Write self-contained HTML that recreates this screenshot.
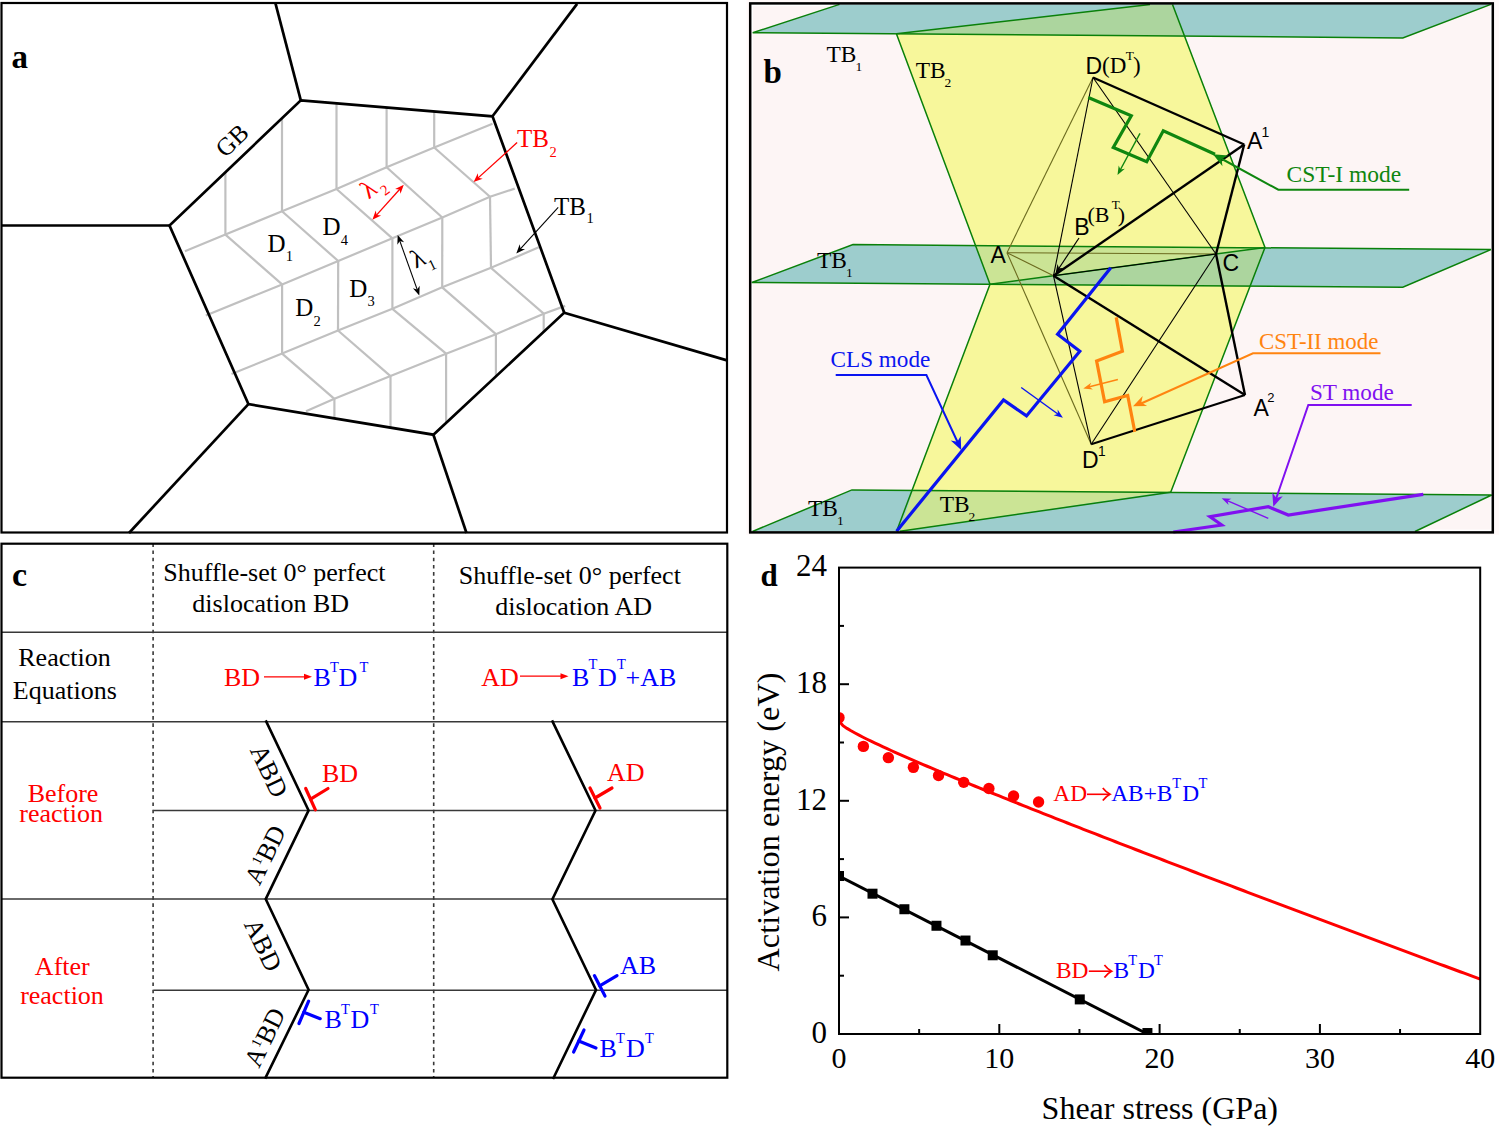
<!DOCTYPE html>
<html><head><meta charset="utf-8"><title>Figure</title>
<style>html,body{margin:0;padding:0;background:#fff;}svg{display:block;}</style></head>
<body><svg width="1499" height="1127" viewBox="0 0 1499 1127">
<rect width="1499" height="1127" fill="#fff"/>
<g id="pa">
<polyline points="184.9,251.2 225.4,234.6 282,211.2 336.5,189 386.6,167.2 434.2,147.5 492.5,123.7" fill="none" stroke="#c0c0c0" stroke-width="2.2" />
<polyline points="205.8,315.4 282.1,284.4 338.2,261 392.4,238.3 442.3,217.5 490,196.8 514.7,188.6" fill="none" stroke="#c0c0c0" stroke-width="2.2" />
<polyline points="231.5,374 282.1,353.6 338,330.5 392.4,308.8 442.2,287.3 491,267.8 538.8,247.3" fill="none" stroke="#c0c0c0" stroke-width="2.2" />
<polyline points="306,411.2 334.4,398.8 390.5,376.1 446.1,353.7 495.9,334.2 543.7,313.7 565.2,305.9" fill="none" stroke="#c0c0c0" stroke-width="2.2" />
<line x1="225.4" y1="234.6" x2="225.4" y2="172.2" stroke="#c0c0c0" stroke-width="2.2" />
<line x1="282" y1="211.2" x2="282" y2="118.23" stroke="#c0c0c0" stroke-width="2.2" />
<line x1="336.5" y1="189" x2="336.5" y2="103.28" stroke="#c0c0c0" stroke-width="2.2" />
<line x1="386.6" y1="167.2" x2="386.6" y2="107.46" stroke="#c0c0c0" stroke-width="2.2" />
<line x1="434.2" y1="147.5" x2="434.2" y2="111.43" stroke="#c0c0c0" stroke-width="2.2" />
<line x1="225.4" y1="234.6" x2="282.1" y2="284.4" stroke="#c0c0c0" stroke-width="2.2" />
<line x1="282" y1="211.2" x2="338.2" y2="261" stroke="#c0c0c0" stroke-width="2.2" />
<line x1="336.5" y1="189" x2="392.4" y2="238.3" stroke="#c0c0c0" stroke-width="2.2" />
<line x1="386.6" y1="167.2" x2="442.3" y2="217.5" stroke="#c0c0c0" stroke-width="2.2" />
<line x1="434.2" y1="147.5" x2="490" y2="196.8" stroke="#c0c0c0" stroke-width="2.2" />
<line x1="282.1" y1="284.4" x2="282.1" y2="353.6" stroke="#c0c0c0" stroke-width="2.2" />
<line x1="338.2" y1="261" x2="338" y2="330.5" stroke="#c0c0c0" stroke-width="2.2" />
<line x1="392.4" y1="238.3" x2="392.4" y2="308.8" stroke="#c0c0c0" stroke-width="2.2" />
<line x1="442.3" y1="217.5" x2="442.2" y2="287.3" stroke="#c0c0c0" stroke-width="2.2" />
<line x1="490" y1="196.8" x2="491" y2="267.8" stroke="#c0c0c0" stroke-width="2.2" />
<line x1="282.1" y1="353.6" x2="334.4" y2="398.8" stroke="#c0c0c0" stroke-width="2.2" />
<line x1="338" y1="330.5" x2="390.5" y2="376.1" stroke="#c0c0c0" stroke-width="2.2" />
<line x1="392.4" y1="308.8" x2="446.1" y2="353.7" stroke="#c0c0c0" stroke-width="2.2" />
<line x1="442.2" y1="287.3" x2="495.9" y2="334.2" stroke="#c0c0c0" stroke-width="2.2" />
<line x1="491" y1="267.8" x2="543.7" y2="313.7" stroke="#c0c0c0" stroke-width="2.2" />
<line x1="334.4" y1="398.8" x2="334.4" y2="418.32" stroke="#c0c0c0" stroke-width="2.2" />
<line x1="390.5" y1="376.1" x2="390.5" y2="427.6" stroke="#c0c0c0" stroke-width="2.2" />
<line x1="446.1" y1="353.7" x2="446.1" y2="422.85" stroke="#c0c0c0" stroke-width="2.2" />
<line x1="495.9" y1="334.2" x2="495.9" y2="376.4" stroke="#c0c0c0" stroke-width="2.2" />
<line x1="543.7" y1="313.7" x2="543.7" y2="331.82" stroke="#c0c0c0" stroke-width="2.2" />
<polygon points="300.8,100.3 492.5,116.3 564.2,312.7 433.4,434.7 248.4,404.1 169.5,225.5" fill="none" stroke="#000" stroke-width="2.7" stroke-linejoin="miter"/>
<line x1="300.8" y1="100.3" x2="275.2" y2="2.4" stroke="#000" stroke-width="2.7" />
<line x1="492.5" y1="116.3" x2="577.1" y2="3.9" stroke="#000" stroke-width="2.7" />
<line x1="564.2" y1="312.7" x2="727" y2="360.4" stroke="#000" stroke-width="2.7" />
<line x1="433.4" y1="434.7" x2="466.5" y2="533" stroke="#000" stroke-width="2.7" />
<line x1="248.4" y1="404.1" x2="129" y2="533" stroke="#000" stroke-width="2.7" />
<line x1="169.5" y1="225.5" x2="1.5" y2="225.5" stroke="#000" stroke-width="2.7" />
<rect x="1.5" y="3" width="725.5" height="529.5" fill="none" stroke="#000" stroke-width="2.2"/>
<text x="11.5" y="67.5" font-family="'Liberation Serif', serif" font-size="33" fill="#000" text-anchor="start" font-weight="bold" >a</text>
<text x="237.8" y="146.5" font-family="'Liberation Serif', serif" font-size="25" fill="#000" text-anchor="middle" transform="rotate(-43.6 237.8 146.5)" >GB</text>
<text x="267.4" y="251.9" font-family="'Liberation Serif', serif" font-size="25" fill="#000" text-anchor="start" >D</text>
<text x="285.7" y="261.1" font-family="'Liberation Serif', serif" font-size="14.5" fill="#000" text-anchor="start" >1</text>
<text x="322.5" y="235.3" font-family="'Liberation Serif', serif" font-size="25" fill="#000" text-anchor="start" >D</text>
<text x="340.8" y="244.5" font-family="'Liberation Serif', serif" font-size="14.5" fill="#000" text-anchor="start" >4</text>
<text x="295.2" y="316.3" font-family="'Liberation Serif', serif" font-size="25" fill="#000" text-anchor="start" >D</text>
<text x="313.5" y="325.5" font-family="'Liberation Serif', serif" font-size="14.5" fill="#000" text-anchor="start" >2</text>
<text x="349.3" y="296.8" font-family="'Liberation Serif', serif" font-size="25" fill="#000" text-anchor="start" >D</text>
<text x="367.6" y="306" font-family="'Liberation Serif', serif" font-size="14.5" fill="#000" text-anchor="start" >3</text>
<text x="517" y="147.2" font-family="'Liberation Serif', serif" font-size="25" fill="#ff0000" text-anchor="start" >TB</text>
<text x="549.5" y="156.5" font-family="'Liberation Serif', serif" font-size="14.5" fill="#ff0000" text-anchor="start" >2</text>
<text x="554" y="215.4" font-family="'Liberation Serif', serif" font-size="25" fill="#000" text-anchor="start" >TB</text>
<text x="586.5" y="223.2" font-family="'Liberation Serif', serif" font-size="14.5" fill="#000" text-anchor="start" >1</text>
<line x1="517.1" y1="142.6" x2="477.6" y2="178.37" stroke="#ff0000" stroke-width="1.3" />
<polygon points="473.6,182 477.85,173.29 478.27,177.77 482.69,178.63" fill="#ff0000" stroke="none" stroke-width="1" />
<line x1="558.2" y1="207.4" x2="519.94" y2="249.41" stroke="#000" stroke-width="1.1" />
<polygon points="516.3,253.4 519.7,244.32 520.54,248.74 525.02,249.17" fill="#000" stroke="none" stroke-width="1" />
<line x1="400.19" y1="188.72" x2="376.01" y2="215.68" stroke="#ff0000" stroke-width="1.3" />
<polygon points="372.4,219.7 375.73,210.6 376.61,215.01 381.09,215.4" fill="#ff0000" stroke="none" stroke-width="1" />
<polygon points="403.8,184.7 400.47,193.8 399.59,189.39 395.11,189" fill="#ff0000" stroke="none" stroke-width="1" />
<line x1="399.52" y1="240.09" x2="417.48" y2="290.41" stroke="#000" stroke-width="1.1" />
<polygon points="419.3,295.5 412.88,288.23 417.18,289.57 419.66,285.81" fill="#000" stroke="none" stroke-width="1" />
<polygon points="397.7,235 404.12,242.27 399.82,240.93 397.34,244.69" fill="#000" stroke="none" stroke-width="1" />
<g transform="translate(372.1,189.4) rotate(-38)"><text x="-9" y="6" font-family="'Liberation Serif', serif" font-size="26" fill="#ff0000">λ</text><text x="6" y="13.3" font-family="'Liberation Serif', serif" font-size="15" fill="#ff0000">2</text></g>
<g transform="translate(420.4,257.6) rotate(-26)"><text x="-9" y="8" font-family="'Liberation Serif', serif" font-size="26" fill="#000">λ</text><text x="3.6" y="16.8" font-family="'Liberation Serif', serif" font-size="15" fill="#000">1</text></g>
</g>
<g id="pb">
<rect x="746.5" y="0" width="752.5" height="535" fill="#fffafa"/>
<rect x="749" y="2" width="745.5" height="532" fill="#fff"/>
<rect x="753" y="6.2" width="737.2" height="523.4" fill="#fdf5f5"/>
<polygon points="896.4,33.85 1185,36.16 1265,247.4 990,284.2" fill="#f7f79b" stroke="none" stroke-width="1" />
<polygon points="990,284.2 1265,247.4 1170.7,492.3 896.6,531.2" fill="#f7f79b" stroke="none" stroke-width="1" />
<polygon points="752.7,32.7 839.5,4.4 1490.9,4.4 1402.8,37.9" fill="#9dcdcd" stroke="none" stroke-width="1" />
<polygon points="751.8,282.5 853,244.6 1490.9,249.6 1402.8,287.3" fill="#9dcdcd" stroke="none" stroke-width="1" />
<polygon points="752.5,531.5 851.9,489.9 1491.7,495 1415,531.5" fill="#9dcdcd" stroke="none" stroke-width="1" />
<polygon points="896.4,33.85 1150,4.4 1172.5,4.4 1185,36.16" fill="#acd59e" stroke="none" stroke-width="1" />
<polygon points="975.5,245.5 1264.9,247.3 990,284.2" fill="#cbe495" stroke="none" stroke-width="1" />
<polygon points="990,284.3 1265,247.4 1250.3,286.3" fill="#acd59e" stroke="none" stroke-width="1" />
<polygon points="913,489.6 1170.4,491.7 1160,492.8 900,531.2" fill="#cbe495" stroke="none" stroke-width="1" />
<polyline points="839.5,4.4 752.7,32.7 1402.8,37.9 1490.9,4.4" fill="none" stroke="#0a800a" stroke-width="1.5" />
<polygon points="751.8,282.5 853,244.6 1490.9,249.6 1402.8,287.3" fill="none" stroke="#0a800a" stroke-width="1.5" />
<polyline points="752.5,531.5 851.9,489.9 1491.7,495 1415,531.5" fill="none" stroke="#0a800a" stroke-width="1.5" />
<polyline points="896.4,33.85 990,284.2 896.6,531.2" fill="none" stroke="#0a800a" stroke-width="1.5" />
<polyline points="1172.5,4.4 1265,247.4 1170.7,492.3" fill="none" stroke="#0a800a" stroke-width="1.5" />
<line x1="896.4" y1="33.85" x2="1150" y2="4.4" stroke="#0a800a" stroke-width="1.5" />
<line x1="990" y1="284.2" x2="1265" y2="247.4" stroke="#0a800a" stroke-width="1.5" />
<line x1="900" y1="531.2" x2="1170.7" y2="492.3" stroke="#0a800a" stroke-width="1.5" />
<line x1="1093" y1="77.5" x2="1007" y2="252.7" stroke="#6b6a1e" stroke-width="1.1" />
<line x1="1007" y1="252.7" x2="1053.5" y2="275.8" stroke="#6b6a1e" stroke-width="1.1" />
<line x1="1007" y1="252.7" x2="1216" y2="254" stroke="#6b6a1e" stroke-width="1.1" />
<line x1="1007" y1="252.7" x2="1091.2" y2="444.3" stroke="#6b6a1e" stroke-width="1.1" />
<line x1="1093" y1="77.5" x2="1053.5" y2="275.8" stroke="#000" stroke-width="1.1" />
<line x1="1093" y1="77.5" x2="1216" y2="254" stroke="#000" stroke-width="1.1" />
<line x1="1053.5" y1="275.8" x2="1091.2" y2="444.3" stroke="#000" stroke-width="1.1" />
<line x1="1216" y1="254" x2="1091.2" y2="444.3" stroke="#000" stroke-width="1.1" />
<line x1="1053.5" y1="275.8" x2="1216" y2="254" stroke="#000" stroke-width="1.1" />
<line x1="1093" y1="77.5" x2="1244.2" y2="144.5" stroke="#000" stroke-width="2.4" />
<line x1="1244.2" y1="144.5" x2="1053.5" y2="275.8" stroke="#000" stroke-width="2.4" />
<line x1="1244.2" y1="144.5" x2="1216" y2="254" stroke="#000" stroke-width="2.4" />
<line x1="1053.5" y1="275.8" x2="1245" y2="395" stroke="#000" stroke-width="2.4" />
<line x1="1216" y1="254" x2="1245" y2="395" stroke="#000" stroke-width="2.4" />
<line x1="1091.2" y1="444.3" x2="1245" y2="395" stroke="#000" stroke-width="2.0" />
<line x1="1079" y1="238" x2="1058.48" y2="269" stroke="#000" stroke-width="1.2" />
<polygon points="1055.5,273.5 1057.55,264.06 1058.98,268.25 1063.39,267.93" fill="#000" stroke="none" stroke-width="1" />
<polyline points="1088.3,97.5 1131.3,115.8 1113.3,147.5 1146.7,161.7 1163.3,130.8 1215,154.2" fill="none" stroke="#0f860f" stroke-width="3.2" stroke-linejoin="miter"/>
<polyline points="1409.2,189.7 1278.3,189.7 1222,159" fill="none" stroke="#0f860f" stroke-width="2" />
<polygon points="1213,154.2 1228.17,155.62 1221.61,158.88 1222.43,166.16" fill="#0f860f" stroke="none" stroke-width="1" />
<line x1="1140" y1="133.3" x2="1120.06" y2="170.25" stroke="#0f860f" stroke-width="1.4" />
<polygon points="1117.5,175 1118.69,165.42 1120.49,169.46 1124.85,168.74" fill="#0f860f" stroke="none" stroke-width="1" />
<text x="1286.5" y="182.4" font-family="'Liberation Serif', serif" font-size="23.5" fill="#0f860f" text-anchor="start" >CST-I mode</text>
<polyline points="1110.8,267.7 1057.6,334.3 1079.8,351.2 1026.5,415.9 1003.5,400 896.6,531.2" fill="none" stroke="#0a14f0" stroke-width="3.2" stroke-linejoin="miter"/>
<polyline points="835.7,375 926.4,375 958,443" fill="none" stroke="#0a14f0" stroke-width="2" />
<polygon points="961.2,450.1 950.74,440.62 957.37,441.84 960.72,435.99" fill="#0a14f0" stroke="none" stroke-width="1" />
<line x1="1021.2" y1="387.5" x2="1058.53" y2="414.53" stroke="#0a14f0" stroke-width="1.4" />
<polygon points="1062.9,417.7 1053.56,415.26 1057.8,414 1057.66,409.59" fill="#0a14f0" stroke="none" stroke-width="1" />
<text x="830.5" y="366.6" font-family="'Liberation Serif', serif" font-size="23.2" fill="#0a14f0" text-anchor="start" >CLS mode</text>
<polyline points="1116.2,317.4 1122.4,351.2 1096.6,360.9 1104.6,401.7 1127.7,395.5 1134.8,431.9" fill="none" stroke="#ff8410" stroke-width="3.2" stroke-linejoin="miter"/>
<polyline points="1380.5,353.3 1253,353.3 1140,404" fill="none" stroke="#ff8410" stroke-width="2" />
<polygon points="1133,406.2 1142.66,395.9 1141.32,402.51 1147.11,405.96" fill="#ff8410" stroke="none" stroke-width="1" />
<line x1="1117.9" y1="379.5" x2="1088.53" y2="387.05" stroke="#ff8410" stroke-width="1.4" />
<polygon points="1083.3,388.4 1091.14,382.77 1089.4,386.83 1092.89,389.55" fill="#ff8410" stroke="none" stroke-width="1" />
<text x="1259" y="348.6" font-family="'Liberation Serif', serif" font-size="22.9" fill="#ff8410" text-anchor="start" >CST-II mode</text>
<polyline points="1173.3,532 1221.7,525 1210,516.7 1268.3,506.7 1288.3,515 1423.3,494.3" fill="none" stroke="#8010f0" stroke-width="3.2" stroke-linejoin="miter"/>
<polyline points="1411.7,405 1308.3,405 1276,499" fill="none" stroke="#8010f0" stroke-width="2" />
<polygon points="1273.3,506.7 1272.33,492.62 1276.26,498.1 1282.73,496.2" fill="#8010f0" stroke="none" stroke-width="1" />
<line x1="1268.3" y1="518.3" x2="1226.66" y2="500.43" stroke="#8010f0" stroke-width="1.4" />
<polygon points="1221.7,498.3 1231.35,498.63 1227.49,500.78 1228.59,505.07" fill="#8010f0" stroke="none" stroke-width="1" />
<text x="1309.9" y="399.5" font-family="'Liberation Serif', serif" font-size="23.2" fill="#8010f0" text-anchor="start" >ST mode</text>
<text x="763.5" y="82.5" font-family="'Liberation Serif', serif" font-size="33" fill="#000" text-anchor="start" font-weight="bold" >b</text>
<text x="826.5" y="62.1" font-family="'Liberation Serif', serif" font-size="23.4" fill="#000" text-anchor="start" >TB</text>
<text x="855.5" y="70.6" font-family="'Liberation Serif', serif" font-size="13.5" fill="#000" text-anchor="start" >1</text>
<text x="915.8" y="78.3" font-family="'Liberation Serif', serif" font-size="23.4" fill="#000" text-anchor="start" >TB</text>
<text x="944.5" y="86.8" font-family="'Liberation Serif', serif" font-size="13.5" fill="#000" text-anchor="start" >2</text>
<text x="817" y="268" font-family="'Liberation Serif', serif" font-size="23.4" fill="#000" text-anchor="start" >TB</text>
<text x="846" y="277.4" font-family="'Liberation Serif', serif" font-size="13.5" fill="#000" text-anchor="start" >1</text>
<text x="808" y="516" font-family="'Liberation Serif', serif" font-size="23.4" fill="#000" text-anchor="start" >TB</text>
<text x="837" y="524.7" font-family="'Liberation Serif', serif" font-size="13.5" fill="#000" text-anchor="start" >1</text>
<text x="939.8" y="512" font-family="'Liberation Serif', serif" font-size="23.4" fill="#000" text-anchor="start" >TB</text>
<text x="968.5" y="520.6" font-family="'Liberation Serif', serif" font-size="13.5" fill="#000" text-anchor="start" >2</text>
<text x="1085.6" y="73.8" font-family="'Liberation Sans', sans-serif" font-size="23" fill="#000" text-anchor="start" >D</text>
<text x="1102" y="72.8" font-family="'Liberation Serif', serif" font-size="23" fill="#000" text-anchor="start" >(D</text>
<text x="1125.8" y="59.7" font-family="'Liberation Serif', serif" font-size="13.3" fill="#000" text-anchor="start" >T</text>
<text x="1133.1" y="72.8" font-family="'Liberation Serif', serif" font-size="23" fill="#000" text-anchor="start" >)</text>
<text x="1246.9" y="149.1" font-family="'Liberation Sans', sans-serif" font-size="23" fill="#000" text-anchor="start" >A</text>
<text x="1261.4" y="137" font-family="'Liberation Sans', sans-serif" font-size="14" fill="#000" text-anchor="start" >1</text>
<text x="1074.2" y="234.6" font-family="'Liberation Sans', sans-serif" font-size="23" fill="#000" text-anchor="start" >B</text>
<text x="1087.4" y="221.6" font-family="'Liberation Serif', serif" font-size="22" fill="#000" text-anchor="start" >(B</text>
<text x="1111.8" y="209.4" font-family="'Liberation Serif', serif" font-size="13" fill="#000" text-anchor="start" >T</text>
<text x="1117.7" y="221.6" font-family="'Liberation Serif', serif" font-size="22" fill="#000" text-anchor="start" >)</text>
<text x="990.4" y="262.9" font-family="'Liberation Sans', sans-serif" font-size="23" fill="#000" text-anchor="start" >A</text>
<text x="1222.4" y="271" font-family="'Liberation Sans', sans-serif" font-size="23" fill="#000" text-anchor="start" >C</text>
<text x="1253.4" y="415.7" font-family="'Liberation Sans', sans-serif" font-size="23" fill="#000" text-anchor="start" >A</text>
<text x="1267.3" y="401.9" font-family="'Liberation Sans', sans-serif" font-size="13" fill="#000" text-anchor="start" >2</text>
<text x="1081.9" y="467.8" font-family="'Liberation Sans', sans-serif" font-size="23" fill="#000" text-anchor="start" >D</text>
<text x="1098.1" y="455.9" font-family="'Liberation Sans', sans-serif" font-size="13.8" fill="#000" text-anchor="start" >1</text>
<rect x="750.2" y="3.4" width="742.6" height="529" fill="none" stroke="#000" stroke-width="2.5"/>
</g>
<g id="pc">
<line x1="1.5" y1="632.2" x2="727" y2="632.2" stroke="#383838" stroke-width="1.5" />
<line x1="1.5" y1="721.8" x2="727" y2="721.8" stroke="#383838" stroke-width="1.5" />
<line x1="1.5" y1="899.1" x2="727" y2="899.1" stroke="#383838" stroke-width="1.5" />
<line x1="153.5" y1="810.4" x2="727" y2="810.4" stroke="#383838" stroke-width="1.5" />
<line x1="153.5" y1="990.2" x2="727" y2="990.2" stroke="#383838" stroke-width="1.5" />
<line x1="153.1" y1="543.7" x2="153.1" y2="1078" stroke="#383838" stroke-width="1.6" stroke-dasharray="3.6 3.6" stroke-dashoffset="0.4"/>
<line x1="433.7" y1="543.7" x2="433.7" y2="1078" stroke="#383838" stroke-width="1.6" stroke-dasharray="3.6 3.6" stroke-dashoffset="0.4"/>
<rect x="1.5" y="543.7" width="725.8" height="534" fill="none" stroke="#000" stroke-width="2.2"/>
<text x="12" y="585.5" font-family="'Liberation Serif', serif" font-size="34" fill="#000" text-anchor="start" font-weight="bold" >c</text>
<text x="274.4" y="581.1" font-family="'Liberation Serif', serif" font-size="26" fill="#000" text-anchor="middle" >Shuffle-set 0° perfect</text>
<text x="270.7" y="611.9" font-family="'Liberation Serif', serif" font-size="26" fill="#000" text-anchor="middle" >dislocation BD</text>
<text x="569.8" y="583.6" font-family="'Liberation Serif', serif" font-size="26" fill="#000" text-anchor="middle" >Shuffle-set 0° perfect</text>
<text x="573.6" y="615" font-family="'Liberation Serif', serif" font-size="26" fill="#000" text-anchor="middle" >dislocation AD</text>
<text x="64.5" y="665.6" font-family="'Liberation Serif', serif" font-size="26" fill="#000" text-anchor="middle" >Reaction</text>
<text x="64.8" y="698.5" font-family="'Liberation Serif', serif" font-size="26" fill="#000" text-anchor="middle" >Equations</text>
<text x="224" y="686.2" font-family="'Liberation Serif', serif" font-size="26" fill="#ff0000" text-anchor="start" >BD</text>
<line x1="264" y1="676.8" x2="307.2" y2="676.8" stroke="#ff0000" stroke-width="1.3" />
<polygon points="312,676.8 304,679.8 304,676.8 304,673.8" fill="#ff0000" stroke="none" stroke-width="1" />
<text x="313.5" y="686.2" font-family="'Liberation Serif', serif" font-size="26" fill="#0000ff" text-anchor="start" >B</text>
<text x="330" y="672" font-family="'Liberation Serif', serif" font-size="14.5" fill="#0000ff" text-anchor="start" >T</text>
<text x="338.5" y="686.2" font-family="'Liberation Serif', serif" font-size="26" fill="#0000ff" text-anchor="start" >D</text>
<text x="359.5" y="672" font-family="'Liberation Serif', serif" font-size="14.5" fill="#0000ff" text-anchor="start" >T</text>
<text x="481.2" y="686.2" font-family="'Liberation Serif', serif" font-size="26" fill="#ff0000" text-anchor="start" >AD</text>
<line x1="520" y1="676.2" x2="563.7" y2="676.2" stroke="#ff0000" stroke-width="1.3" />
<polygon points="568.5,676.2 560.5,679.2 560.5,676.2 560.5,673.2" fill="#ff0000" stroke="none" stroke-width="1" />
<text x="572" y="686.2" font-family="'Liberation Serif', serif" font-size="26" fill="#0000ff" text-anchor="start" >B</text>
<text x="588.5" y="669" font-family="'Liberation Serif', serif" font-size="14.5" fill="#0000ff" text-anchor="start" >T</text>
<text x="598" y="686.2" font-family="'Liberation Serif', serif" font-size="26" fill="#0000ff" text-anchor="start" >D</text>
<text x="617" y="669" font-family="'Liberation Serif', serif" font-size="14.5" fill="#0000ff" text-anchor="start" >T</text>
<text x="625.5" y="686.2" font-family="'Liberation Serif', serif" font-size="26" fill="#0000ff" text-anchor="start" >+AB</text>
<text x="63" y="801.9" font-family="'Liberation Serif', serif" font-size="26" fill="#ff0000" text-anchor="middle" >Before</text>
<text x="61.2" y="821.8" font-family="'Liberation Serif', serif" font-size="26" fill="#ff0000" text-anchor="middle" >reaction</text>
<text x="62.3" y="975.1" font-family="'Liberation Serif', serif" font-size="26" fill="#ff0000" text-anchor="middle" >After</text>
<text x="62" y="1003.8" font-family="'Liberation Serif', serif" font-size="26" fill="#ff0000" text-anchor="middle" >reaction</text>
<polyline points="265.7,720.4 308.6,810.4 265.7,899.1 308.6,989.8 265.1,1078.6" fill="none" stroke="#000" stroke-width="2.6" stroke-linejoin="miter"/>
<polyline points="552,720.4 595.5,810.5 552.4,899.3 596,990 553,1079" fill="none" stroke="#000" stroke-width="2.6" stroke-linejoin="miter"/>
<text x="269" y="771" font-family="'Liberation Serif', serif" font-size="26" text-anchor="middle" transform="rotate(64.5 269 771)" dominant-baseline="central">ABD</text>
<text x="263" y="945" font-family="'Liberation Serif', serif" font-size="26" text-anchor="middle" transform="rotate(64.5 263 945)" dominant-baseline="central">ABD</text>
<g transform="translate(267.5 851.5) rotate(-64.1)"><text x="-4" y="8" font-family="'Liberation Serif', serif" font-size="26" text-anchor="middle">A<tspan dy="-9" font-size="14">1</tspan><tspan dy="9">BD</tspan></text></g>
<g transform="translate(267 1034) rotate(-64.1)"><text x="-4" y="8" font-family="'Liberation Serif', serif" font-size="26" text-anchor="middle">A<tspan dy="-9" font-size="14">1</tspan><tspan dy="9">BD</tspan></text></g>
<line x1="305.7" y1="788.5" x2="315.4" y2="809.8" stroke="#ff0000" stroke-width="3.2" stroke-linecap="round"/>
<line x1="310.55" y1="799.15" x2="328" y2="788.5" stroke="#ff0000" stroke-width="3.2" stroke-linecap="round"/>
<line x1="590" y1="788" x2="600" y2="808" stroke="#ff0000" stroke-width="3.2" stroke-linecap="round"/>
<line x1="595" y1="798" x2="612" y2="788" stroke="#ff0000" stroke-width="3.2" stroke-linecap="round"/>
<line x1="308.6" y1="1001.2" x2="299" y2="1023.5" stroke="#0000ff" stroke-width="3.2" stroke-linecap="round"/>
<line x1="303.8" y1="1012.35" x2="320.2" y2="1018.7" stroke="#0000ff" stroke-width="3.2" stroke-linecap="round"/>
<line x1="594.4" y1="975.6" x2="605" y2="996" stroke="#0000ff" stroke-width="3.2" stroke-linecap="round"/>
<line x1="599.7" y1="985.8" x2="617" y2="975.6" stroke="#0000ff" stroke-width="3.2" stroke-linecap="round"/>
<line x1="584" y1="1030" x2="573.6" y2="1052" stroke="#0000ff" stroke-width="3.2" stroke-linecap="round"/>
<line x1="578.8" y1="1041" x2="596" y2="1048" stroke="#0000ff" stroke-width="3.2" stroke-linecap="round"/>
<text x="322" y="781.7" font-family="'Liberation Serif', serif" font-size="26" fill="#ff0000" text-anchor="start" >BD</text>
<text x="607" y="781" font-family="'Liberation Serif', serif" font-size="26" fill="#ff0000" text-anchor="start" >AD</text>
<text x="620" y="974" font-family="'Liberation Serif', serif" font-size="26" fill="#0000ff" text-anchor="start" >AB</text>
<text x="324.5" y="1028.3" font-family="'Liberation Serif', serif" font-size="26" fill="#0000ff" text-anchor="start" >B</text>
<text x="341" y="1014" font-family="'Liberation Serif', serif" font-size="14.5" fill="#0000ff" text-anchor="start" >T</text>
<text x="350.5" y="1028.3" font-family="'Liberation Serif', serif" font-size="26" fill="#0000ff" text-anchor="start" >D</text>
<text x="370" y="1014" font-family="'Liberation Serif', serif" font-size="14.5" fill="#0000ff" text-anchor="start" >T</text>
<text x="599.5" y="1057" font-family="'Liberation Serif', serif" font-size="26" fill="#0000ff" text-anchor="start" >B</text>
<text x="616" y="1042.5" font-family="'Liberation Serif', serif" font-size="14.5" fill="#0000ff" text-anchor="start" >T</text>
<text x="626" y="1057" font-family="'Liberation Serif', serif" font-size="26" fill="#0000ff" text-anchor="start" >D</text>
<text x="645" y="1042.5" font-family="'Liberation Serif', serif" font-size="14.5" fill="#0000ff" text-anchor="start" >T</text>
</g>
<g id="pd">
<defs><clipPath id="plot"><rect x="839.0" y="567.6" width="641.2" height="466.4"/></clipPath></defs>
<g clip-path="url(#plot)">
<path d="M839,721.03 L843.01,725.68 L847.01,728.4 L851.02,730.8 L855.03,733.04 L859.04,735.17 L863.04,737.22 L867.05,739.22 L871.06,741.18 L875.07,743.09 L879.08,744.98 L883.08,746.84 L887.09,748.68 L891.1,750.5 L895.11,752.3 L899.11,754.09 L903.12,755.86 L907.13,757.62 L911.13,759.36 L915.14,761.1 L919.15,762.83 L923.16,764.54 L927.16,766.25 L931.17,767.95 L935.18,769.64 L939.19,771.33 L943.2,773.01 L947.2,774.68 L951.21,776.35 L955.22,778.01 L959.23,779.66 L963.23,781.31 L967.24,782.96 L971.25,784.6 L975.25,786.24 L979.26,787.87 L983.27,789.5 L987.28,791.13 L991.29,792.75 L995.29,794.37 L999.3,795.98 L1003.31,797.59 L1007.32,799.2 L1011.32,800.81 L1015.33,802.41 L1019.34,804.01 L1023.35,805.61 L1027.35,807.2 L1031.36,808.79 L1035.37,810.38 L1039.38,811.97 L1043.38,813.55 L1047.39,815.13 L1051.4,816.71 L1055.4,818.29 L1059.41,819.87 L1063.42,821.44 L1067.43,823.01 L1071.43,824.58 L1075.44,826.15 L1079.45,827.72 L1083.46,829.28 L1087.46,830.85 L1091.47,832.41 L1095.48,833.97 L1099.49,835.52 L1103.49,837.08 L1107.5,838.63 L1111.51,840.19 L1115.52,841.74 L1119.53,843.29 L1123.53,844.84 L1127.54,846.39 L1131.55,847.93 L1135.56,849.48 L1139.56,851.02 L1143.57,852.56 L1147.58,854.1 L1151.59,855.64 L1155.59,857.18 L1159.6,858.72 L1163.61,860.26 L1167.62,861.79 L1171.62,863.32 L1175.63,864.86 L1179.64,866.39 L1183.64,867.92 L1187.65,869.45 L1191.66,870.98 L1195.67,872.51 L1199.68,874.03 L1203.68,875.56 L1207.69,877.08 L1211.7,878.61 L1215.7,880.13 L1219.71,881.65 L1223.72,883.17 L1227.73,884.69 L1231.74,886.21 L1235.74,887.73 L1239.75,889.25 L1243.76,890.77 L1247.76,892.28 L1251.77,893.8 L1255.78,895.31 L1259.79,896.83 L1263.8,898.34 L1267.8,899.85 L1271.81,901.36 L1275.82,902.87 L1279.83,904.38 L1283.83,905.89 L1287.84,907.4 L1291.85,908.91 L1295.86,910.42 L1299.86,911.92 L1303.87,913.43 L1307.88,914.94 L1311.88,916.44 L1315.89,917.94 L1319.9,919.45 L1323.91,920.95 L1327.91,922.45 L1331.92,923.95 L1335.93,925.45 L1339.94,926.95 L1343.95,928.45 L1347.95,929.95 L1351.96,931.45 L1355.97,932.95 L1359.97,934.45 L1363.98,935.94 L1367.99,937.44 L1372,938.94 L1376.01,940.43 L1380.01,941.93 L1384.02,943.42 L1388.03,944.91 L1392.04,946.41 L1396.04,947.9 L1400.05,949.39 L1404.06,950.88 L1408.07,952.37 L1412.07,953.86 L1416.08,955.35 L1420.09,956.84 L1424.1,958.33 L1428.1,959.82 L1432.11,961.31 L1436.12,962.8 L1440.12,964.29 L1444.13,965.77 L1448.14,967.26 L1452.15,968.74 L1456.15,970.23 L1460.16,971.72 L1464.17,973.2 L1468.18,974.68 L1472.18,976.17 L1476.19,977.65 L1480.2,979.13" fill="none" stroke="#ff0000" stroke-width="3"/>
<circle cx="839" cy="717.63" r="5.7" fill="#ff0000"/>
<circle cx="863.37" cy="746.39" r="5.7" fill="#ff0000"/>
<circle cx="888.37" cy="757.66" r="5.7" fill="#ff0000"/>
<circle cx="913.38" cy="767.37" r="5.7" fill="#ff0000"/>
<circle cx="938.55" cy="775.54" r="5.7" fill="#ff0000"/>
<circle cx="963.71" cy="782.34" r="5.7" fill="#ff0000"/>
<circle cx="988.88" cy="788.56" r="5.7" fill="#ff0000"/>
<circle cx="1013.57" cy="795.94" r="5.7" fill="#ff0000"/>
<circle cx="1038.57" cy="801.97" r="5.7" fill="#ff0000"/>
<line x1="839" y1="876.01" x2="1147.42" y2="1034" stroke="#000" stroke-width="3"/>
<rect x="834" y="871.01" width="10" height="10" fill="#000"/>
<rect x="867.5" y="888.69" width="10" height="10" fill="#000"/>
<rect x="899.4" y="904.24" width="10" height="10" fill="#000"/>
<rect x="931.46" y="920.76" width="10" height="10" fill="#000"/>
<rect x="960.48" y="935.53" width="10" height="10" fill="#000"/>
<rect x="987.73" y="950.29" width="10" height="10" fill="#000"/>
<rect x="1074.77" y="994.41" width="10" height="10" fill="#000"/>
<rect x="1142.42" y="1028.03" width="10" height="10" fill="#000"/>
</g>
<rect x="839.0" y="567.6" width="641.2" height="466.4" fill="none" stroke="#000" stroke-width="2"/>
<line x1="919.15" y1="1034" x2="919.15" y2="1029" stroke="#000" stroke-width="2" />
<line x1="999.3" y1="1034" x2="999.3" y2="1024" stroke="#000" stroke-width="2" />
<line x1="1079.45" y1="1034" x2="1079.45" y2="1029" stroke="#000" stroke-width="2" />
<line x1="1159.6" y1="1034" x2="1159.6" y2="1024" stroke="#000" stroke-width="2" />
<line x1="1239.75" y1="1034" x2="1239.75" y2="1029" stroke="#000" stroke-width="2" />
<line x1="1319.9" y1="1034" x2="1319.9" y2="1024" stroke="#000" stroke-width="2" />
<line x1="1400.05" y1="1034" x2="1400.05" y2="1029" stroke="#000" stroke-width="2" />
<line x1="839" y1="975.7" x2="844" y2="975.7" stroke="#000" stroke-width="2" />
<line x1="839" y1="917.4" x2="849" y2="917.4" stroke="#000" stroke-width="2" />
<line x1="839" y1="859.1" x2="844" y2="859.1" stroke="#000" stroke-width="2" />
<line x1="839" y1="800.8" x2="849" y2="800.8" stroke="#000" stroke-width="2" />
<line x1="839" y1="742.5" x2="844" y2="742.5" stroke="#000" stroke-width="2" />
<line x1="839" y1="684.2" x2="849" y2="684.2" stroke="#000" stroke-width="2" />
<line x1="839" y1="625.9" x2="844" y2="625.9" stroke="#000" stroke-width="2" />
<text x="839" y="1068" font-family="'Liberation Serif', serif" font-size="30" fill="#000" text-anchor="middle" >0</text>
<text x="999.3" y="1068" font-family="'Liberation Serif', serif" font-size="30" fill="#000" text-anchor="middle" >10</text>
<text x="1159.6" y="1068" font-family="'Liberation Serif', serif" font-size="30" fill="#000" text-anchor="middle" >20</text>
<text x="1319.9" y="1068" font-family="'Liberation Serif', serif" font-size="30" fill="#000" text-anchor="middle" >30</text>
<text x="1480.2" y="1068" font-family="'Liberation Serif', serif" font-size="30" fill="#000" text-anchor="middle" >40</text>
<text x="827" y="1042.7" font-family="'Liberation Serif', serif" font-size="31" fill="#000" text-anchor="end" >0</text>
<text x="827" y="926.1" font-family="'Liberation Serif', serif" font-size="31" fill="#000" text-anchor="end" >6</text>
<text x="827" y="809.5" font-family="'Liberation Serif', serif" font-size="31" fill="#000" text-anchor="end" >12</text>
<text x="827" y="692.9" font-family="'Liberation Serif', serif" font-size="31" fill="#000" text-anchor="end" >18</text>
<text x="827" y="576.3" font-family="'Liberation Serif', serif" font-size="31" fill="#000" text-anchor="end" >24</text>
<text x="1159.8" y="1119.3" font-family="'Liberation Serif', serif" font-size="32" fill="#000" text-anchor="middle" >Shear stress (GPa)</text>
<text x="779.2" y="822" font-family="'Liberation Serif', serif" font-size="32.3" fill="#000" text-anchor="middle" transform="rotate(-90 779.2 822)" >Activation energy (eV)</text>
<text x="760.5" y="586" font-family="'Liberation Serif', serif" font-size="31" fill="#000" text-anchor="start" font-weight="bold" >d</text>
<text x="1053.3" y="800.5" font-family="'Liberation Serif', serif" font-size="23.4" fill="#ff0000" text-anchor="start" >AD</text>
<line x1="1087" y1="794.3" x2="1109.2" y2="794.3" stroke="#ff0000" stroke-width="1.6" />
<path d="M1102.8,788.1 Q1106,792.3 1110,794.3 Q1106,796.3 1102.8,800.5" fill="none" stroke="#ff0000" stroke-width="1.7"/>
<text x="1111.2" y="800.5" font-family="'Liberation Serif', serif" font-size="23.4" fill="#0000ff" text-anchor="start" >AB+B</text>
<text x="1172.3" y="787.5" font-family="'Liberation Serif', serif" font-size="14.5" fill="#0000ff" text-anchor="start" >T</text>
<text x="1182.3" y="800.5" font-family="'Liberation Serif', serif" font-size="23.4" fill="#0000ff" text-anchor="start" >D</text>
<text x="1198.5" y="787.5" font-family="'Liberation Serif', serif" font-size="14.5" fill="#0000ff" text-anchor="start" >T</text>
<text x="1056" y="977.6" font-family="'Liberation Serif', serif" font-size="23.4" fill="#ff0000" text-anchor="start" >BD</text>
<line x1="1088.8" y1="971.2" x2="1110.8" y2="971.2" stroke="#ff0000" stroke-width="1.6" />
<path d="M1104.4,965 Q1107.6,969.2 1111.6,971.2 Q1107.6,973.2 1104.4,977.4" fill="none" stroke="#ff0000" stroke-width="1.7"/>
<text x="1113.5" y="977.6" font-family="'Liberation Serif', serif" font-size="23.4" fill="#0000ff" text-anchor="start" >B</text>
<text x="1128.3" y="964.8" font-family="'Liberation Serif', serif" font-size="14.5" fill="#0000ff" text-anchor="start" >T</text>
<text x="1138" y="977.6" font-family="'Liberation Serif', serif" font-size="23.4" fill="#0000ff" text-anchor="start" >D</text>
<text x="1154" y="964.8" font-family="'Liberation Serif', serif" font-size="14.5" fill="#0000ff" text-anchor="start" >T</text>
</g>
</svg></body></html>
